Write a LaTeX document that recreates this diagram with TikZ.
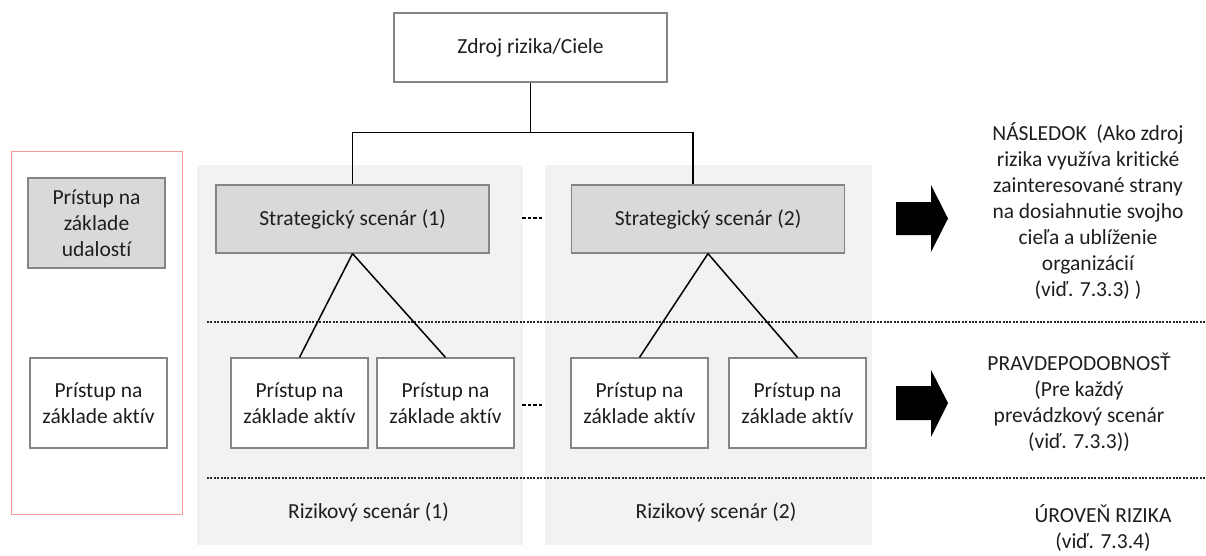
\documentclass[tikz,border=0pt]{standalone}
\usepackage{fontspec}
\setmainfont{Carlito}[Ligatures=NoCommon]
\usepackage{tikz}
\usetikzlibrary{calc}
\definecolor{boxgray}{HTML}{D9D9D9}
\definecolor{panelgray}{HTML}{F2F2F2}
\definecolor{framered}{HTML}{F79A9A}
\definecolor{edgegray}{HTML}{858585}
\definecolor{txtgray}{HTML}{1E1E1E}
\tikzstyle{plainbox}=[draw=edgegray, line width=1.2pt, fill=white, align=center, text=txtgray, minimum width=137pt, minimum height=90pt, inner sep=0pt, font=\fontsize{21.5}{26}\selectfont]
\tikzstyle{stratbox}=[plainbox, fill=boxgray, minimum width=273pt, minimum height=68pt]
\tikzstyle{sidetext}=[align=center, text=txtgray, inner sep=0pt, font=\fontsize{21.5}{26}\selectfont]
\tikzstyle{conn}=[draw=black, line width=1.5pt]
\tikzstyle{sepline}=[draw=black!85, line width=1.2pt, dash pattern=on 2pt off 1.4pt]
\tikzstyle{gapdash}=[draw=black, line width=1.5pt, dash pattern=on 3.5pt off 2pt]
\tikzstyle{bigarrow}=[fill=black]

\begin{document}
\begin{tikzpicture}[x=1pt, y=-1pt]
		   \useasboundingbox (0,0) rectangle (1206,555);
		   % background panels
		   \fill[panelgray] (197,165) rectangle (523,545);
		   \fill[panelgray] (545,165) rectangle (872,545);
		   \draw[framered, line width=1pt] (11,151) rectangle (182,514);

		   % level separators
		   \draw[sepline] (207,322) -- (1206,322);
		   \draw[sepline] (207,478) -- (1206,478);

		   % tree
		   \node at (530.5,47.5)[plainbox, minimum width=273pt, minimum height=69pt] (zdroj) {Zdroj rizika/Ciele};
		   \node at (352.5,219)[stratbox] (strat1) {Strategický scenár (1)};
		   \node at (708,219)[stratbox] (strat2) {Strategický scenár (2)};
		   \node at (299.5,403)[plainbox] (akt1) {Prístup na\\základe aktív};
		   \node at (445.5,403)[plainbox] (akt2) {Prístup na\\základe aktív};
		   \node at (639.5,403)[plainbox] (akt3) {Prístup na\\základe aktív};
		   \node at (797.5,403)[plainbox] (akt4) {Prístup na\\základe aktív};
		   \node at (368.5,512)[sidetext] (riz1) {Rizikový scenár (1)};
		   \node at (716,512)[sidetext] (riz2) {Rizikový scenár (2)};

		   \draw[conn] (zdroj.south) -- ++(0,50) coordinate (fork) -| (strat1.north);
		   \draw[conn] (fork) -| ($(strat2.north)+(-15,0)$);
		   \draw[conn] (strat1.south) -- (akt1.north);
		   \draw[conn] (strat1.south) -- (akt2.north);
		   \draw[conn] (strat2.south) -- (akt3.north);
		   \draw[conn] (strat2.south) -- (akt4.north);

		   % gaps between the panels
		   \draw[gapdash] (522,218) -- (543,218);
		   \draw[gapdash] (522,405) -- (543,405);

		   % left legend
		   \node at (96.5,223)[plainbox, fill=boxgray] (udal) {Prístup na\\základe\\udalostí};
		   \node at (98.5,403)[plainbox] (aktiv) {Prístup na\\základe aktív};

		   % right side
		   \fill[bigarrow] (896,202) -- (931,202) -- (931,185) -- (948,218.5) -- (931,252) -- (931,235) -- (896,235) -- cycle;
		   \fill[bigarrow] (896,386) -- (931,386) -- (931,370) -- (948,403) -- (931,437) -- (931,420) -- (896,420) -- cycle;
		   \node at (1088,211)[sidetext] (nasl) {NÁSLEDOK\ \ (Ako zdroj\\rizika využíva kritické\\zainteresované strany\\na dosiahnutie svojho\\cieľa a ublíženie\\organizácií\\(viď. 7.3.3) )};
		   \node at (1079,402.5)[sidetext] (prav) {PRAVDEPODOBNOSŤ\\(Pre každý\\prevádzkový scenár\\(viď. 7.3.3))};
		   \node at (1103,528)[sidetext] (urov) {ÚROVEŇ RIZIKA\\(viď. 7.3.4)};
	   \end{tikzpicture}
\end{document}
